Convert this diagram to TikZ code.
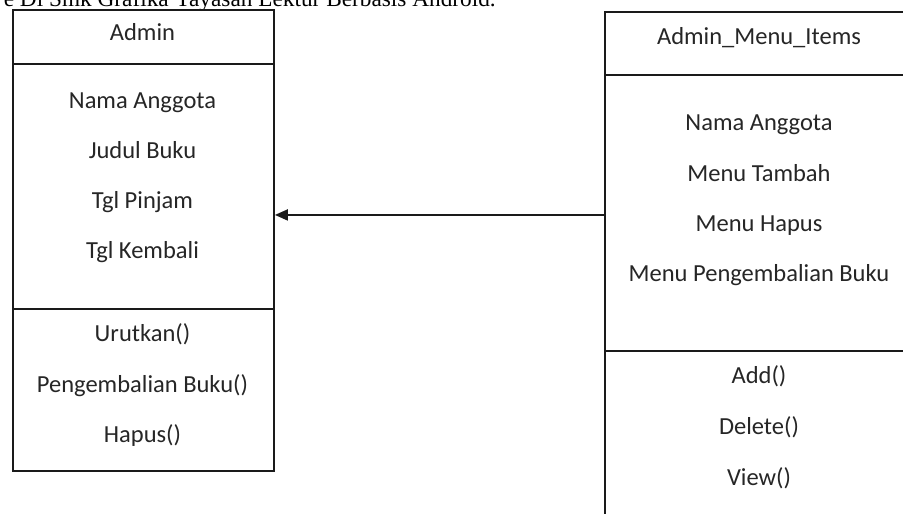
\documentclass[tikz,border=0pt]{standalone}
\usepackage{fontspec}
\setmainfont{Carlito}
\newfontfamily\captionserif{Liberation Serif}
\usetikzlibrary{arrows.meta}
\definecolor{ink}{HTML}{262626}
\definecolor{edge}{HTML}{1A1A1A}
\tikzset{
  compartment/.style={draw=edge, line width=1.9pt, inner sep=0pt, anchor=north west},
  entry/.style={font=\fontsize{24.5}{29}\selectfont, text=ink, inner sep=0pt, anchor=base},
  assoc/.style={draw=edge, line width=1.9pt, -{Triangle[length=13pt,width=11pt]}}
}
\begin{document}
\begin{tikzpicture}[x=1pt,y=-1pt]
\useasboundingbox (0,0) rectangle (903,514);
\clip (0,0) rectangle (903,514);
\fill[white] (0,0) rectangle (903,514);

% running text from the page above the figure
\node[anchor=base east, inner sep=0pt, font=\captionserif\fontsize{23.3}{28}\selectfont] (caption) at (496,6)
  {e Di Smk Grafika Yayasan Lektur Berbasis Android.};

% class Admin
\node[compartment, minimum width=261pt, minimum height=54pt]  (adminhead) at (12,9) {};
\node[compartment, minimum width=261pt, minimum height=245pt] (adminattr) at (12,63) {};
\node[compartment, minimum width=261pt, minimum height=162pt] (adminops)  at (12,308) {};
\node[entry] (a0) at (142.5,40.7) {Admin};
\node[entry] (a1) at (142.5,108.3) {Nama Anggota};
\node[entry] (a2) at (142.5,158.3) {Judul Buku};
\node[entry] (a3) at (142.5,208.3) {Tgl Pinjam};
\node[entry] (a4) at (142.5,258.3) {Tgl Kembali};
\node[entry] (a5) at (142.5,341.7) {Urutkan()};
\node[entry] (a6) at (142.5,392.7) {Pengembalian Buku()};
\node[entry] (a7) at (142.5,442.7) {Hapus()};

% class Admin_Menu_Items
\node[compartment, minimum width=310pt, minimum height=63pt]  (menuhead) at (604,11) {};
\node[compartment, minimum width=310pt, minimum height=276pt] (menuattr) at (604,74) {};
\node[compartment, minimum width=310pt, minimum height=190pt] (menuops)  at (604,350) {};
\node[entry] (m0) at (759,44) {Admin\_Menu\_Items};
\node[entry] (m1) at (759,130) {Nama Anggota};
\node[entry] (m2) at (759,181) {Menu Tambah};
\node[entry] (m3) at (759,231) {Menu Hapus};
\node[entry] (m4) at (759,281) {Menu Pengembalian Buku};
\node[entry] (m5) at (759,383.3) {Add()};
\node[entry] (m6) at (759,434.3) {Delete()};
\node[entry] (m7) at (759,485.7) {View()};

% association, slightly below the middle of the attribute compartment
\coordinate (assocstart) at ([yshift=-2pt]menuattr.west);
\draw[assoc] (assocstart) -- (assocstart -| adminattr.east);
\end{tikzpicture}
\end{document}
